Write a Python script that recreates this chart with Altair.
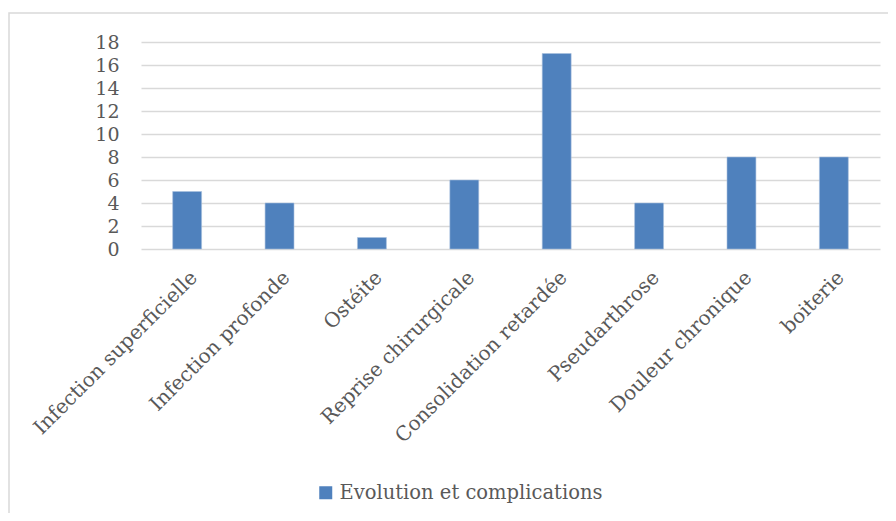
import altair as alt
import pandas as pd

categories = ["Infection superficielle", "Infection profonde", "Ostéite",
              "Reprise chirurgicale", "Consolidation retardée", "Pseudarthrose",
              "Douleur chronique", "boiterie"]
values = [5, 4, 1, 6, 17, 4, 8, 8]
series_name = "Evolution et complications"
y_ticks = [0, 2, 4, 6, 8, 10, 12, 14, 16, 18]

df = pd.DataFrame({"cat": categories, "val": values, "series": series_name})

W, H = 739, 207
FONT = "DejaVu Serif"
TXT = "#595959"

bars = alt.Chart(df).mark_bar(stroke="#a7c0de", strokeWidth=0.6).encode(
    x=alt.X("cat:N", sort=categories, title=None,
            scale=alt.Scale(paddingInner=0.687, paddingOuter=0.343),
            axis=alt.Axis(labelAngle=-45, labelAlign="right", labelBaseline="top",
                          labelPadding=18, ticks=False, domain=False,
                          labelFont=FONT, labelFontSize=20, labelColor=TXT,
                          labelLimit=400, labelOverlap=False)),
    y=alt.Y("val:Q", title=None,
            scale=alt.Scale(domain=[0, 18], nice=False),
            axis=alt.Axis(values=y_ticks, ticks=False, domain=False,
                          labelPadding=22, labelFont=FONT, labelFontSize=19,
                          labelColor=TXT, gridColor="#d9d9d9", gridWidth=1.3)),
    color=alt.Color("series:N", title=None,
                    scale=alt.Scale(range=["#4f81bd"]),
                    legend=alt.Legend(orient="none", legendX=175, legendY=441,
                                      symbolType="square", symbolSize=169,
                                      symbolStrokeWidth=0,
                                      labelFont=FONT, labelFontSize=19.5,
                                      labelColor=TXT, labelLimit=500)),
)

border = alt.Chart(pd.DataFrame({"a": [0]})).mark_rect(
    fill=None, stroke="#d9d9d9", strokeWidth=1.5
).encode(x=alt.value(-132), x2=alt.value(W + 60),
         y=alt.value(-29), y2=alt.value(H + 400))

chart = alt.layer(border, bars).properties(
    width=W, height=H,
    autosize=alt.AutoSizeParams(type="none"),
    padding={"left": 133, "top": 34, "right": 8, "bottom": 264},
).configure_view(stroke=None)

chart.save("out.html", embed_options={"renderer": "svg", "actions": False})
